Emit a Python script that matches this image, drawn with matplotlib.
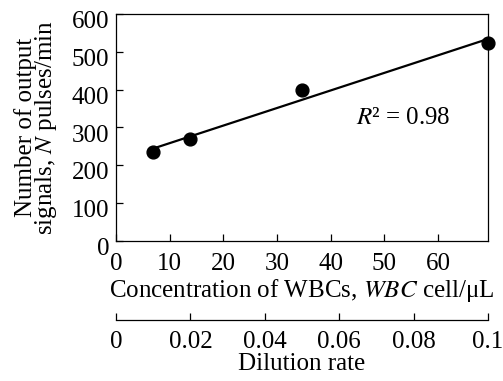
import numpy as np
import matplotlib
matplotlib.use("Agg")
import matplotlib.pyplot as plt
import matplotlib.transforms as mtransforms

plt.rcParams["font.family"] = ["Liberation Serif", "DejaVu Serif"]
plt.rcParams["mathtext.fontset"] = "stix"

# WBC concentration (cell/uL) vs number of output signals (pulses/min)
wbc = [6.9, 13.8, 34.7, 69.3]
pulses = [236, 269, 400, 523]

x_max = 69.3
dil_max = 0.1
y_ticks = [0, 100, 200, 300, 400, 500, 600]
x_ticks = [0, 10, 20, 30, 40, 50, 60]
dil_ticks = [0, 0.02, 0.04, 0.06, 0.08, 0.1]
dil_labels = ["0", "0.02", "0.04", "0.06", "0.08", "0.1"]

fs = 18
fig = plt.figure(figsize=(5.03, 3.81), dpi=100)
ax = fig.add_axes([116 / 503, 1 - 241 / 381, (488 - 116) / 503, (241 - 14) / 381])

slope, icpt = np.polyfit(wbc, pulses, 1)
xs = np.array([wbc[0], wbc[-1]])
ax.plot(xs, slope * xs + icpt, color="black", lw=1.6, zorder=2)
ax.scatter(wbc, pulses, s=85, color="black", zorder=3, clip_on=False)

ax.set_xlim(0, x_max)
ax.set_ylim(0, 600)
ax.set_xticks(x_ticks)
ax.set_yticks(y_ticks)
ax.tick_params(direction="in", length=5, width=0.9, labelsize=fs)
ax.tick_params(axis="y", pad=5)
ax.tick_params(axis="x", pad=9)
for sp in ax.spines.values():
    sp.set_linewidth(0.9)

# the y tick labels in the original sit slightly below their ticks
shift = mtransforms.ScaledTranslation(0, -4 / 72, fig.dpi_scale_trans)
for lab in ax.get_yticklabels():
    lab.set_transform(lab.get_transform() + shift)

ax.set_xlabel("Concentration of WBCs, $WBC$ cell/μL", fontsize=fs, labelpad=1)
ax.set_ylabel("Number of output\nsignals, $N$ pulses/min", fontsize=fs,
              linespacing=0.8, labelpad=9)

ax.text(44.7, 325, "$R$² = 0.98", fontsize=fs, va="center", ha="left")

sec = ax.secondary_xaxis(-0.348, functions=(lambda x: x / x_max * dil_max,
                                            lambda d: d / dil_max * x_max))
sec.set_xticks(dil_ticks)
sec.set_xticklabels(dil_labels)
sec.tick_params(direction="in", length=5, width=0.9, labelsize=fs, pad=8)
sec.spines["bottom"].set_linewidth(0.9)
sec.set_xlabel("Dilution rate", fontsize=fs, labelpad=0)

fig.savefig("out.png", dpi=100)
